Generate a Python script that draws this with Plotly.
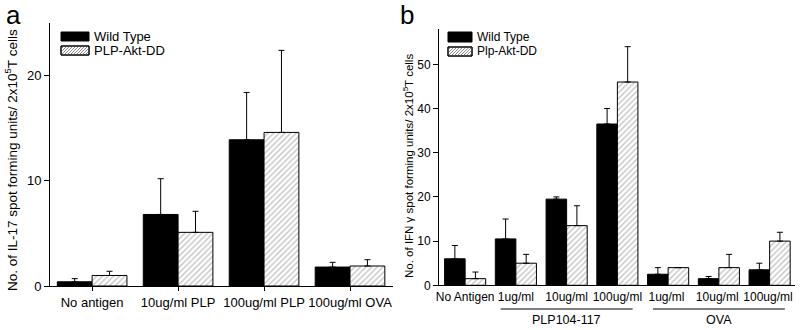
import plotly.graph_objects as go

# Panel a data
cats_a = ["No antigen", "10ug/ml PLP", "100ug/ml PLP", "100ug/ml OVA"]
wt_a = [0.4, 6.8, 13.9, 1.8]
wt_a_err = [0.3, 3.4, 4.5, 0.45]
akt_a = [1.0, 5.1, 14.6, 1.9]
akt_a_err = [0.4, 2.0, 7.8, 0.6]

# Panel b data
cats_b = ["No Antigen", "1ug/ml", "10ug/ml", "100ug/ml", "1ug/ml ", "10ug/ml ", "100ug/ml "]
wt_b = [6.0, 10.5, 19.5, 36.5, 2.5, 1.5, 3.5]
wt_b_err = [3.0, 4.5, 0.5, 3.5, 1.5, 0.5, 1.5]
akt_b = [1.5, 5.0, 13.5, 46.0, 4.0, 4.0, 10.0]
akt_b_err = [1.5, 2.0, 4.5, 8.0, 0.0, 3.0, 2.0]

W, H = 800, 330
FONT = "Liberation Sans, Arial, sans-serif"
hatch = dict(shape="/", size=4, fgcolor="#8a8a8a", bgcolor="#ffffff", solidity=0.35)


def px(x):
    return x / W


def py(y):
    return 1 - y / H


def err(arr):
    return dict(type="data", array=arr, arrayminus=[0] * len(arr), symmetric=False,
                color="black", thickness=1, width=3)


fig = go.Figure()
fig.add_trace(go.Bar(x=cats_a, y=wt_a, error_y=err(wt_a_err), marker=dict(color="black", line=dict(color="black", width=1)),
                     xaxis="x", yaxis="y", name="Wild Type"))
fig.add_trace(go.Bar(x=cats_a, y=akt_a, error_y=err(akt_a_err),
                     marker=dict(color="white", pattern=hatch, line=dict(color="black", width=1)),
                     xaxis="x", yaxis="y", name="PLP-Akt-DD"))
fig.add_trace(go.Bar(x=cats_b, y=wt_b, error_y=err(wt_b_err), marker=dict(color="black", line=dict(color="black", width=1)),
                     xaxis="x2", yaxis="y2", name="Wild Type"))
fig.add_trace(go.Bar(x=cats_b, y=akt_b, error_y=err(akt_b_err),
                     marker=dict(color="white", pattern=hatch, line=dict(color="black", width=1)),
                     xaxis="x2", yaxis="y2", name="Plp-Akt-DD"))

axis_common = dict(showline=True, linecolor="black", linewidth=1, showgrid=False, zeroline=False,
                   tickfont=dict(family=FONT, size=13, color="black"), ticks="outside", ticklen=5,
                   tickcolor="black", automargin=False, tickangle=0)

fig.update_layout(
    width=W, height=H, margin=dict(l=0, r=0, t=0, b=0),
    paper_bgcolor="white", plot_bgcolor="white", showlegend=False,
    barmode="group", bargap=0.19, bargroupgap=0,
    font=dict(family=FONT, color="black"),
    xaxis=dict(axis_common, domain=[px(50), px(393)], anchor="y", range=[-0.49, 3.5], ticklen=4),
    yaxis=dict(axis_common, domain=[py(286), py(23)], anchor="x", range=[0, 25], tickvals=[0, 10, 20]),
    xaxis2=dict(axis_common, domain=[px(439), px(795)], anchor="y2", range=[-0.515, 6.5], ticks="",
                tickfont=dict(family=FONT, size=12, color="black")),
    yaxis2=dict(axis_common, domain=[py(285.3), py(29)], anchor="x2", range=[0, 58],
                tickvals=[0, 10, 20, 30, 40, 50], tickfont=dict(family=FONT, size=12, color="black")),
)

# Legends (drawn as swatches + text)
def legend(x0, x1, ys, labels, fsize):
    for (y0, y1), lab, kind in zip(ys, labels, ["wt", "akt"]):
        if kind == "wt":
            fig.add_shape(type="rect", xref="paper", yref="paper", x0=px(x0), x1=px(x1), y0=py(y1), y1=py(y0),
                          fillcolor="black", line=dict(color="black", width=1))
        else:
            fig.add_shape(type="rect", xref="paper", yref="paper", x0=px(x0), x1=px(x1), y0=py(y1), y1=py(y0),
                          fillcolor="white", line=dict(color="black", width=1))
            path = ""
            step = 3
            h = y1 - y0
            s = x0 - h
            while s < x1:
                ax, ay = s, y1
                bx, by = s + h, y0
                if ax < x0:
                    ay = y1 - (x0 - ax)
                    ax = x0
                if bx > x1:
                    by = y0 + (bx - x1)
                    bx = x1
                if ax < bx:
                    path += f"M{px(ax)},{py(ay)} L{px(bx)},{py(by)} "
                s += step
            fig.add_shape(type="path", xref="paper", yref="paper", path=path,
                          line=dict(color="#8a8a8a", width=1))
            fig.add_shape(type="rect", xref="paper", yref="paper", x0=px(x0), x1=px(x1), y0=py(y1), y1=py(y0),
                          line=dict(color="black", width=1))
        fig.add_annotation(xref="paper", yref="paper", x=px(x1 + 3), y=py((y0 + y1) / 2), text=lab,
                           showarrow=False, xanchor="left", yanchor="middle",
                           font=dict(family=FONT, size=fsize, color="black"))


legend(61, 89, [(32, 41), (46, 55)], ["Wild Type", "PLP-Akt-DD"], 13)
legend(448, 472, [(32, 42), (47, 56)], ["Wild Type", "Plp-Akt-DD"], 12)

# Panel letters
fig.add_annotation(xref="paper", yref="paper", x=px(4), y=py(-2), text="a", showarrow=False,
                   xanchor="left", yanchor="top", font=dict(family=FONT, size=26, color="black"))
fig.add_annotation(xref="paper", yref="paper", x=px(398), y=py(-2), text="b", showarrow=False,
                   xanchor="left", yanchor="top", font=dict(family=FONT, size=26, color="black"))

# Y axis titles
fig.add_annotation(xref="paper", yref="paper", x=px(11), y=py(160), textangle=-90,
                   text="No. of IL-17 spot forming units/ 2x10<sup>5</sup>T cells", showarrow=False,
                   xanchor="center", yanchor="middle", font=dict(family=FONT, size=13.5, color="black"))
fig.add_annotation(xref="paper", yref="paper", x=px(408), y=py(166), textangle=-90,
                   text="No. of IFN γ spot forming units/ 2x10<sup>5</sup>T cells", showarrow=False,
                   xanchor="center", yanchor="middle", font=dict(family=FONT, size=11.5, color="black"))

# Group brackets in panel b
for x0, x1, lab, xc in [(0.7, 3.3, "PLP104-117", 2.0), (3.7, 6.3, "OVA", 5.0)]:
    fig.add_shape(type="line", xref="x2", yref="paper", x0=x0, x1=x1, y0=py(309), y1=py(309),
                  line=dict(color="black", width=1.2))
    fig.add_annotation(xref="x2", yref="paper", x=xc, y=py(320), text=lab, showarrow=False,
                       xanchor="center", yanchor="middle", font=dict(family=FONT, size=12.5, color="black"))

fig.write_html("out.html", config={"displayModeBar": False},
               post_script="document.body.style.margin='0';document.body.style.overflow='hidden';")
